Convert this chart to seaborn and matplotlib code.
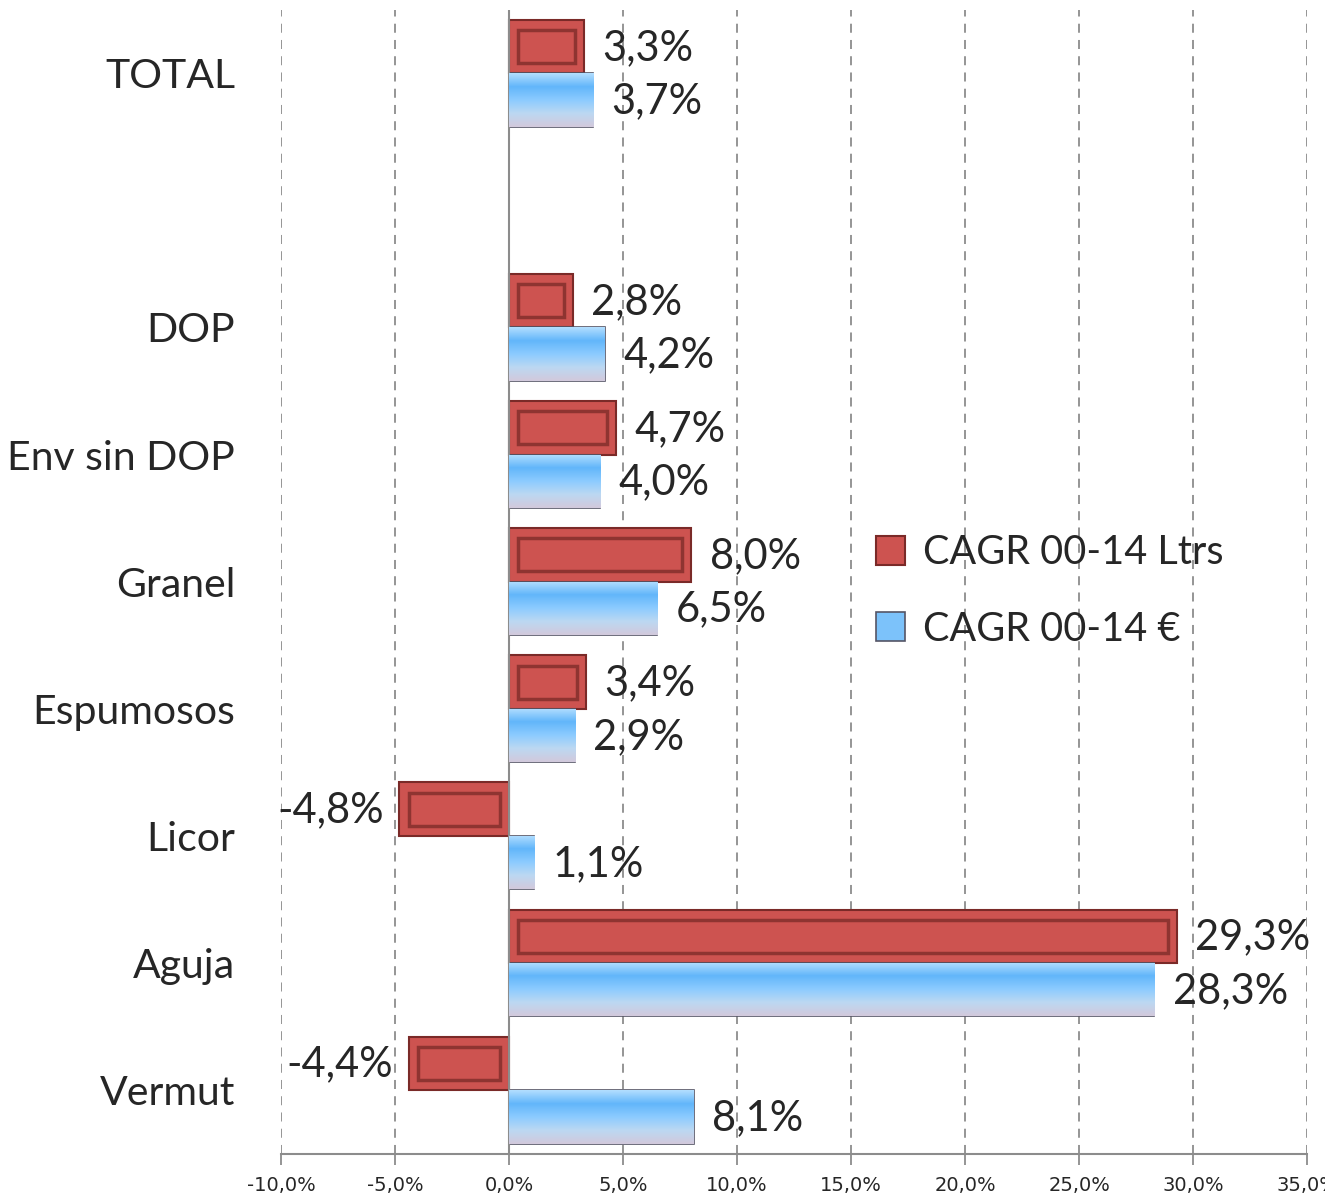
import matplotlib
matplotlib.use("Agg")
import matplotlib.pyplot as plt
import numpy as np
import pandas as pd
import seaborn as sns
from matplotlib.colors import LinearSegmentedColormap
from matplotlib.patches import Rectangle

categories = ["TOTAL", " ", "DOP", "Env sin DOP", "Granel", "Espumosos", "Licor", "Aguja", "Vermut"]
ltrs = [3.3, np.nan, 2.8, 4.7, 8.0, 3.4, -4.8, 29.3, -4.4]
euro = [3.7, np.nan, 4.2, 4.0, 6.5, 2.9, 1.1, 28.3, 8.1]
series = ["CAGR 00-14 Ltrs", "CAGR 00-14 €"]
xticks = [-10, -5, 0, 5, 10, 15, 20, 25, 30, 35]

df = pd.DataFrame({
    "cat": categories * 2,
    "serie": [series[0]] * len(categories) + [series[1]] * len(categories),
    "val": ltrs + euro,
})

sns.set_theme(style="white")
plt.rcParams["font.family"] = ["Lato", "DejaVu Sans"]

fig = plt.figure(figsize=(13.25, 11.98), dpi=100)
ax = fig.add_axes([0.212, 0.037, 0.7745, 0.955])

red = "#CD5350"
blue = "#7CC2FA"
sns.barplot(data=df, y="cat", x="val", hue="serie", order=categories,
            hue_order=series, palette=[red, blue], width=0.84,
            orient="h", ax=ax, saturation=1, legend=False)

# top of bar -> bottom of bar
blue_cmap = LinearSegmentedColormap.from_list(
    "bl", ["#B2DEFF", "#62B6FA", "#8CCBFF", "#BCD8F2", "#D2C9DC"])

# bevel look on every bar
for p in list(ax.patches):
    w = p.get_width()
    if np.isnan(w) or w == 0:
        continue
    x0, y0, h = p.get_x(), p.get_y(), p.get_height()
    if p.get_facecolor()[2] < 0.5:  # red bars
        p.set_edgecolor("#7A2A28")
        p.set_linewidth(1.5)
        inx = 0.4 * np.sign(w) if abs(w) > 1 else 0.1
        ax.add_patch(Rectangle((x0 + inx, y0 + 0.08), w - 2 * inx, h - 0.16,
                               facecolor=red, edgecolor="#8E3431", lw=2.5,
                               zorder=p.get_zorder() + 0.1))
    else:
        p.set_edgecolor("#555566")
        p.set_linewidth(1.2)
        grad = np.linspace(0, 1, 100).reshape(-1, 1)
        xs = sorted([x0, x0 + w])
        # y axis is inverted: row 0 of the image goes to the top (y0)
        im = ax.imshow(grad, cmap=blue_cmap, aspect="auto", origin="upper",
                       extent=[xs[0], xs[1], y0 + h, y0], zorder=p.get_zorder() + 0.1)
        im.set_clip_path(p)

# value labels
for bars_vals, offset in zip([ltrs, euro], [-0.2, 0.22]):
    for k, v in enumerate(bars_vals):
        if np.isnan(v):
            continue
        txt = f"{v:.1f}%".replace(".", ",")
        if v >= 0:
            ax.text(v + 0.8, k + offset, txt, ha="left", va="center", fontsize=30)
        else:
            ax.text(v - 0.7, k + offset, txt, ha="right", va="center", fontsize=30)

ax.set_xlim(-10, 35)
ax.set_ylim(len(categories) - 0.5, -0.5)
ax.set_xticks(xticks)
ax.set_xticklabels([f"{t:.1f}%".replace(".", ",") for t in xticks],
                   fontsize=14, family=["Liberation Sans Narrow", "DejaVu Sans"])
ax.tick_params(axis="x", bottom=True, length=8, color="#888888", pad=8)
ax.tick_params(axis="y", left=False, labelsize=29.5, pad=27)
ax.set_xlabel("")
ax.set_ylabel("")
ax.xaxis.grid(True, linestyle=(0, (5, 4)), color="#8C8C8C", lw=1.3)
ax.set_axisbelow(True)
ax.axvline(0, color="#8C8C8C", lw=1.5, zorder=1)
for s in ["top", "right", "left"]:
    ax.spines[s].set_visible(False)
ax.spines["bottom"].set_color("#8C8C8C")
ax.spines["bottom"].set_linewidth(1.5)

handles = [Rectangle((0, 0), 1, 1, facecolor=red, edgecolor="#7A2A28", lw=1.5),
           Rectangle((0, 0), 1, 1, facecolor=blue, edgecolor="#555566", lw=1.2)]
ax.legend(handles, series, loc="center left", bbox_to_anchor=(0.545, 0.492),
          frameon=False, fontsize=28.5, handlelength=0.75, handleheight=0.75,
          handletextpad=0.45, labelspacing=1.0)

fig.savefig("out.png", dpi=100)
